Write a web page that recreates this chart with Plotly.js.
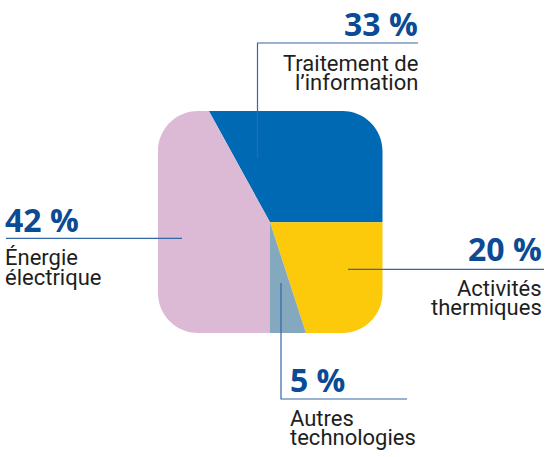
<!DOCTYPE html>
<html><head><meta charset="utf-8">
<script src="https://cdn.plot.ly/plotly-3.0.1.min.js"></script>
<style>html,body{margin:0;padding:0;background:#fff}#chart{width:546px;height:457px}</style>
</head><body><div id="chart"></div>
<script>
// ---- data ----
const categories = ["Traitement de l’information", "Activités thermiques", "Autres technologies", "Énergie électrique"];
const labelLines = [["Traitement de", "l’information"], ["Activités", "thermiques"], ["Autres", "technologies"], ["Énergie", "électrique"]];
const shares = [33, 20, 5, 42];
const sliceColors = ["#0069b4", "#fdc90b", "#84a8bd", "#dcb9d5"];

// ---- layout helpers (pixel -> paper) ----
const W = 546, H = 457;
const px = x => x / W, py = y => 1 - y / H;
const FONT = "Roboto, 'Noto Sans', sans-serif";
const PCT_FONT = "'Open Sans', Roboto, sans-serif";
const PCT_COLOR = "#0b4a94", TXT_COLOR = "#1e1e1e", LINE_COLOR = "#3566a6";

// label placement per category: [anchor, x, pctBaseline, line1Baseline, line2Baseline]
const place = [
  ["right", 420, 35, 71.5, 90.5],
  ["right", 544, 259.5, 296, 315],
  ["left", 288, 390.5, 426, 445],
  ["left", 3, 231, 265, 285]
];
const leaders = [
  "M257.5,158 V43 H418",
  "M348,269.3 H544",
  "M281,283 V399 H407",
  "M6,238.3 H182"
];

function ann(text, x, base, size, color, bold, anchor, fam) {
  return {
    text: text, xref: "paper", yref: "paper", x: px(x), y: py(base - 0.35 * size),
    xanchor: anchor, yanchor: "middle", showarrow: false,
    font: {family: fam, size: size, color: color, weight: bold ? 700 : 400}
  };
}
const annotations = [];
shares.forEach((v, i) => {
  const p = place[i];
  annotations.push(ann(v + " %", p[1], p[2], 32, PCT_COLOR, true, p[0], PCT_FONT));
  annotations.push(ann(labelLines[i][0], p[1], p[3], 22, TXT_COLOR, false, p[0], FONT));
  annotations.push(ann(labelLines[i][1], p[1], p[4], 22, TXT_COLOR, false, p[0], FONT));
});

// convert a pixel path to paper path
function toPaper(d) {
  return d.replace(/([MLHVCZ])\s*([^MLHVCZ]*)/g, (m, c, args) => {
    const nums = args.trim().length ? args.trim().split(/[\s,]+/).map(Number) : [];
    let out = [];
    if (c === "H") out = nums.map(n => px(n));
    else if (c === "V") out = nums.map(n => py(n));
    else for (let k = 0; k < nums.length; k += 2) out.push(px(nums[k]) + "," + py(nums[k + 1]));
    return c + out.join(" ") + " ";
  });
}

// rounded-square window (mask outside it)
const L = 158, R = 382.5, T = 111, B = 333, r = 40, k = 0.5523 * r;
const rrect = `M${L + r},${T} L${R - r},${T} C${R - r + k},${T} ${R},${T + r - k} ${R},${T + r} ` +
  `L${R},${B - r} C${R},${B - r + k} ${R - r + k},${B} ${R - r},${B} ` +
  `L${L + r},${B} C${L + r - k},${B} ${L},${B - r + k} ${L},${B - r} ` +
  `L${L},${T + r} C${L},${T + r - k} ${L + r - k},${T} ${L + r},${T} Z`;
const maskPath = `M-5,-5 L${W + 5},-5 L${W + 5},${H + 5} L-5,${H + 5} Z ` + rrect;

const shapes = [
  {type: "path", xref: "paper", yref: "paper", path: toPaper(maskPath), fillcolor: "#ffffff",
   fillrule: "evenodd", line: {width: 0}, layer: "above"}
].concat(leaders.map(d => ({
  type: "path", xref: "paper", yref: "paper", path: toPaper(d),
  line: {color: LINE_COLOR, width: 1.2}, layer: "above"
})));

const cx = 270, cy = 222.3, rad = 150;
const trace = {
  type: "pie", labels: categories, values: shares, sort: false, direction: "clockwise",
  rotation: -28.8, textinfo: "none", hoverinfo: "label+percent",
  marker: {colors: sliceColors, line: {width: 0}},
  domain: {x: [px(cx - rad), px(cx + rad)], y: [py(cy + rad), py(cy - rad)]},
  showlegend: false
};

Plotly.newPlot("chart", [trace], {
  width: W, height: H, margin: {l: 0, r: 0, t: 0, b: 0},
  paper_bgcolor: "#ffffff", showlegend: false,
  shapes: shapes, annotations: annotations
}, {displayModeBar: false, staticPlot: true});
</script></body></html>
